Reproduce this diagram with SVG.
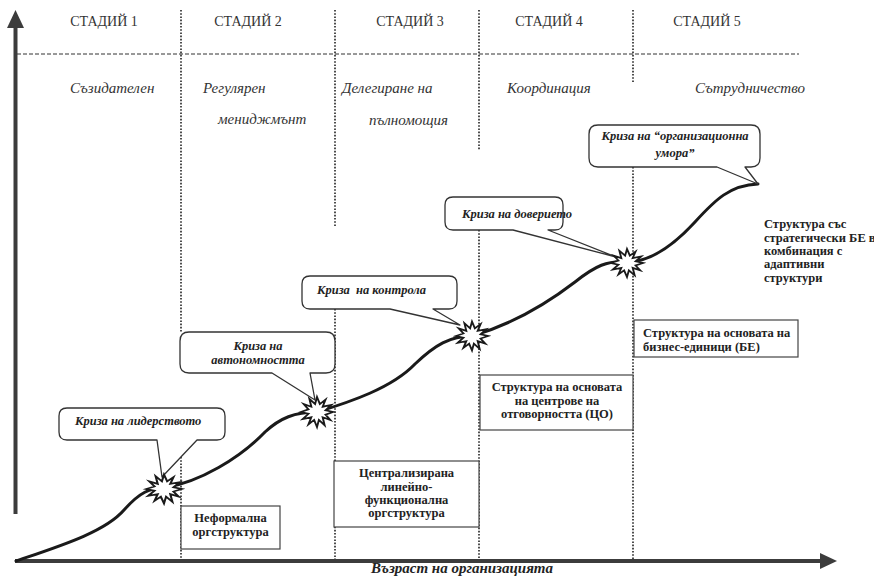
<svg xmlns="http://www.w3.org/2000/svg" xmlns:xlink="http://www.w3.org/1999/xlink" width="874" height="576" viewBox="0 0 874 576">
<style>
text{font-family:'Liberation Serif','DejaVu Serif',serif}
.hdr{font-size:14px;fill:#333}
.it{font-size:15px;font-style:italic;fill:#333}
.cl{font-size:12.5px;font-style:italic;font-weight:bold;fill:#222}
.bx{font-size:12.5px;font-weight:bold;fill:#222}
.axl{font-size:15px;font-style:italic;font-weight:bold;fill:#222}
.dot{stroke:#222;stroke-width:1.6;stroke-dasharray:1.6 1.6;fill:none}
.dash{stroke:#333;stroke-width:1;stroke-dasharray:4 2;fill:none}
.axis{stroke:#3c3c3c;stroke-width:4;fill:none}
.curve{stroke:#1a1a1a;stroke-width:3;fill:none;stroke-linecap:round;stroke-linejoin:round}
.call{fill:#fff;stroke:#333;stroke-width:1.3;stroke-linejoin:round}
.box{fill:#fff;stroke:#444;stroke-width:1.2}
.star{fill:#fff;stroke:#1a1a1a;stroke-width:2;stroke-linejoin:miter}
</style>
<defs>
<path id="star" d="M17,0 L9,3 L14,9 L6,6 L8,15 L2,9 L0,17 L-3,9 L-9,14 L-6,6 L-15,8 L-9,2 L-17,0 L-9,-3 L-14,-9 L-6,-6 L-8,-15 L-2,-9 L0,-17 L3,-9 L9,-14 L6,-6 L15,-8 L9,-2 Z"/>
</defs>
<rect width="874" height="576" fill="#fff"/>

<g id="grid">
<line class="dash" x1="17" y1="54" x2="799" y2="54"/>
<line class="dot" x1="181" y1="10" x2="181" y2="332"/>
<line class="dot" x1="181" y1="457" x2="181" y2="560"/>
<line class="dot" x1="335" y1="10" x2="335" y2="227"/>
<line class="dot" x1="335" y1="309" x2="335" y2="560"/>
<line class="dot" x1="479" y1="10" x2="479" y2="150"/>
<line class="dot" x1="479" y1="230" x2="479" y2="560"/>
<line class="dot" x1="633" y1="10" x2="633" y2="83"/>
<line class="dot" x1="633" y1="167" x2="633" y2="560"/>
</g>

<g id="headers">
<text class="hdr" x="104" y="26" text-anchor="middle">СТАДИЙ 1</text>
<text class="hdr" x="248" y="26" text-anchor="middle">СТАДИЙ 2</text>
<text class="hdr" x="410" y="26" text-anchor="middle">СТАДИЙ 3</text>
<text class="hdr" x="549" y="26" text-anchor="middle">СТАДИЙ 4</text>
<text class="hdr" x="707" y="26" text-anchor="middle">СТАДИЙ 5</text>
<text class="it" x="70" y="93">Съзидателен</text>
<text class="it" x="203" y="93">Регулярен</text>
<text class="it" x="218" y="124">мениджмънт</text>
<text class="it" x="342" y="93">Делегиране на</text>
<text class="it" x="369" y="125">пълномощия</text>
<text class="it" x="507" y="93">Координация</text>
<text class="it" x="695" y="93">Сътрудничество</text>
</g>

<g id="connectors">
<line class="axis" x1="15.5" y1="26" x2="15.5" y2="514"/>
<polygon points="15.5,10 7,28 24,28" fill="#3c3c3c"/>
<line class="axis" x1="15" y1="561" x2="822" y2="561"/>
<polygon points="837,561 820,553 820,569" fill="#3c3c3c"/>
<path class="curve" d="M16,561 C60,546 105,532 124,510 C140,492 150,488 164,488 C200,482 240,458 265,432 C280,418 295,412 317,412 C350,402 392,388 415,364 C435,345 450,336 472,336 C510,325 545,305 575,282 C595,266 608,260 627,262 C650,262 672,247 695,222 C715,200 730,185 758,184"/>
</g>

<g id="crisis1">
<path class="call" d="M67,408 H217 Q225,408 225,416 V432 Q225,440 217,440 H197 L162,477 L157,440 H67 Q59,440 59,432 V416 Q59,408 67,408 Z"/>
<text class="cl" x="75" y="425">Криза на лидерството</text>
</g>
<g id="crisis2">
<path class="call" d="M189,332 H326 Q335,332 335,341 V364 Q335,373 326,373 H310 L315,400 L272,373 H189 Q180,373 180,364 V341 Q180,332 189,332 Z"/>
<text class="cl" x="258" y="350" text-anchor="middle">Криза на</text>
<text class="cl" x="258" y="364" text-anchor="middle">автономността</text>
</g>
<g id="crisis3">
<path class="call" d="M310,276 H449 Q457,276 457,284 V301 Q457,309 449,309 H433 L460,325 L390,309 H310 Q302,309 302,301 V284 Q302,276 310,276 Z"/>
<text class="cl" x="317" y="294" style="white-space:pre">Криза  на контрола</text>
</g>
<g id="crisis4">
<path class="call" d="M453,197 H555 Q563,197 563,205 V222 Q563,230 555,230 H548 L616,257 L513,230 H453 Q445,230 445,222 V205 Q445,197 453,197 Z"/>
<text class="cl" x="462" y="218">Криза на доверието</text>
</g>
<g id="crisis5">
<path class="call" d="M598,125 H751 Q760,125 760,134 V158 Q760,167 751,167 H745 L758,184 L717,167 H598 Q589,167 589,158 V134 Q589,125 598,125 Z"/>
<text class="cl" x="675" y="140" text-anchor="middle">Криза на “организационна</text>
<text class="cl" x="675" y="157" text-anchor="middle">умора”</text>
</g>

<g id="stars">
<use href="#star" xlink:href="#star" class="star" transform="translate(164,489) scale(1.05,0.85)"/>
<use href="#star" xlink:href="#star" class="star" transform="translate(317,412) scale(0.95,0.88)"/>
<use href="#star" xlink:href="#star" class="star" transform="translate(472,336) scale(0.95,0.85)"/>
<use href="#star" xlink:href="#star" class="star" transform="translate(627,263) scale(0.95,0.82)"/>
</g>

<g id="box1">
<rect class="box" x="181" y="506" width="99" height="43"/>
<text class="bx" x="230.5" y="522" text-anchor="middle">Неформална</text>
<text class="bx" x="230.5" y="536" text-anchor="middle">оргструктура</text>
</g>
<g id="box2">
<rect class="box" x="334" y="461" width="145" height="66"/>
<text class="bx" x="406.5" y="477" text-anchor="middle">Централизирана</text>
<text class="bx" x="406.5" y="490.5" text-anchor="middle">линейно-</text>
<text class="bx" x="406.5" y="504" text-anchor="middle">функционална</text>
<text class="bx" x="406.5" y="517" text-anchor="middle">оргструктура</text>
</g>
<g id="box3">
<rect class="box" x="480" y="375" width="153" height="55"/>
<text class="bx" x="557" y="391" text-anchor="middle">Структура на основата</text>
<text class="bx" x="557" y="405" text-anchor="middle">на центрове на</text>
<text class="bx" x="557" y="418" text-anchor="middle">отговорността (ЦО)</text>
</g>
<g id="box4">
<rect class="box" x="634" y="320" width="164" height="37"/>
<text class="bx" x="643" y="337">Структура на основата на</text>
<text class="bx" x="643" y="351">бизнес-единици (БЕ)</text>
</g>
<g id="label5">
<text class="bx" x="764" y="228">Структура със</text>
<text class="bx" x="764" y="242">стратегически БЕ в</text>
<text class="bx" x="764" y="255">комбинация с</text>
<text class="bx" x="764" y="268">адаптивни</text>
<text class="bx" x="764" y="282">структури</text>
</g>
<g id="xlabel">
<text class="axl" x="462" y="573" text-anchor="middle">Възраст на организацията</text>
</g>
</svg>
